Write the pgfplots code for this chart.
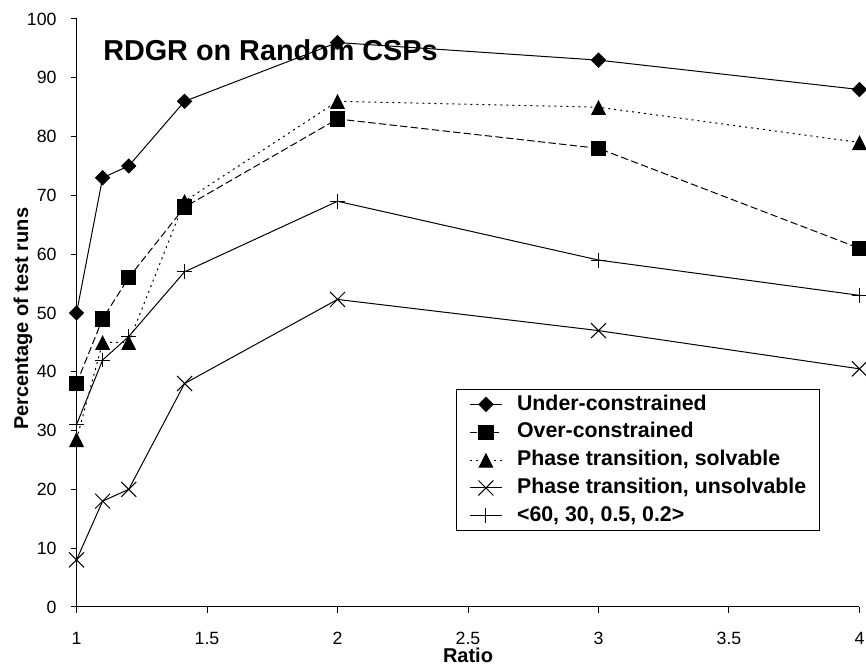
\documentclass[border=0pt]{standalone}
\usepackage{fontspec}
\setmainfont{Liberation Sans}
\usepackage{pgfplots}
\pgfplotsset{compat=1.18}
\usepackage{pgfplotstable}

\pgfplotstableread{
x      under  over  solv  unsolv  param
1      50     38    28.5  8       31
1.1    73     49    45    18      42
1.2    75     56    45    20      46
1.414  86     68    69    38      57
2      96     83    86    52.3    69
3      93     78    85    47      59
4      88     61    79    40.5    53
}\datatable

\tikzset{
  diamst/.style={black, line width=0.75pt, mark=square*, mark size=3.7pt, mark options={rotate=45, solid, fill=black}},
  sqst/.style={black, line width=0.75pt, mark=square*, mark size=5.4pt, mark options={solid, fill=black}},
  trist/.style={black, line width=0.75pt, mark=triangle*, mark size=5.8pt, mark options={solid, fill=black, yscale=1.15, yshift=-1.74pt}},
  xst/.style={black, line width=0.75pt, mark=x, mark size=7.95pt, mark options={solid}},
  plst/.style={black, line width=0.75pt, mark=+, mark size=5.6pt, mark options={solid}},
  dashst/.style={dash pattern=on 5.5pt off 2.5pt},
  dotst/.style={dash pattern=on 1.5pt off 3pt},
}

\begin{document}
\begin{tikzpicture}
\begin{axis}[
  scale only axis,
  width=587.25pt, height=441pt,
  xmin=1, xmax=4, ymin=0, ymax=100,
  axis lines=left,
  axis line style={-, black, line width=0.75pt},
  xtick={1,1.5,2,2.5,3,3.5,4},
  ytick={0,10,20,30,40,50,60,70,80,90,100},
  tick align=outside,
  major tick length=4.5pt,
  tick style={black, line width=0.75pt},
  clip=false,
  /pgf/number format/assume math mode=true,
  ticklabel style={font=\fontsize{13.3}{16}\selectfont, inner sep=0pt},
  yticklabel style={anchor=east, xshift=-10.3pt},
  xticklabel style={anchor=base, yshift=-23.5pt},
  every axis y label/.style={at={(axis description cs:-0.0683,0.49)}, rotate=90, anchor=center, font=\fontsize{15}{18}\selectfont\bfseries},
  every axis x label/.style={at={(axis description cs:0.5,-0.094)}, anchor=base, font=\fontsize{15}{18}\selectfont\bfseries},
  xlabel={Ratio},
  ylabel={Percentage of test runs},
  legend cell align=left,
  legend style={at={(axis description cs:0.4847,0.3707)}, anchor=north west,
    draw=black, line width=0.75pt,
    font=\fontsize{16}{19}\selectfont\bfseries,
    inner xsep=9.75pt, inner ysep=3.4pt,
    row sep=5.4pt, column sep=11pt,
    nodes={inner sep=0pt, text height=12pt, text depth=3.5pt, fill=none}},
]
\addplot[diamst, solid,
  legend image code/.code={\path[diamst] plot coordinates {(0.42cm,0cm)}; \draw[black, line width=0.75pt, solid] (0cm,0cm) -- (0.84cm,0cm);}]
  table[x=x, y=under] {\datatable};
\addlegendentry{Under-constrained}
\addplot[sqst, dashst,
  legend image code/.code={\path[sqst] plot coordinates {(0.42cm,0cm)}; \draw[black, line width=0.75pt, dashst] (0cm,0cm) -- (0.84cm,0cm);}]
  table[x=x, y=over] {\datatable};
\addlegendentry{Over-constrained}
\addplot[trist, dotst,
  legend image code/.code={\path[trist] plot coordinates {(0.42cm,0cm)}; \draw[black, line width=0.75pt, dotst] (0cm,0cm) -- (0.84cm,0cm);}]
  table[x=x, y=solv] {\datatable};
\addlegendentry{Phase transition, solvable}
\addplot[xst, solid,
  legend image code/.code={\path[xst] plot coordinates {(0.42cm,0cm)}; \draw[black, line width=0.75pt, solid] (0cm,0cm) -- (0.84cm,0cm);}]
  table[x=x, y=unsolv] {\datatable};
\addlegendentry{Phase transition, unsolvable\hspace{10.5pt}}
\addplot[plst, solid,
  legend image code/.code={\path[plst] plot coordinates {(0.42cm,0cm)}; \draw[black, line width=0.75pt, solid] (0cm,0cm) -- (0.84cm,0cm);}]
  table[x=x, y=param] {\datatable};
\addlegendentry{<60, 30, 0.5, 0.2>}
\node[anchor=base west, font=\fontsize{21.6}{26}\selectfont\bfseries, inner sep=0pt] at (axis description cs:0.0338,0.930) {RDGR on Random CSPs};
\end{axis}
\pgfresetboundingbox
\path ([shift={(-57.4pt,-48pt)}]current axis.south west) rectangle ([shift={(4.9pt,14.25pt)}]current axis.north east);
\end{tikzpicture}
\end{document}
